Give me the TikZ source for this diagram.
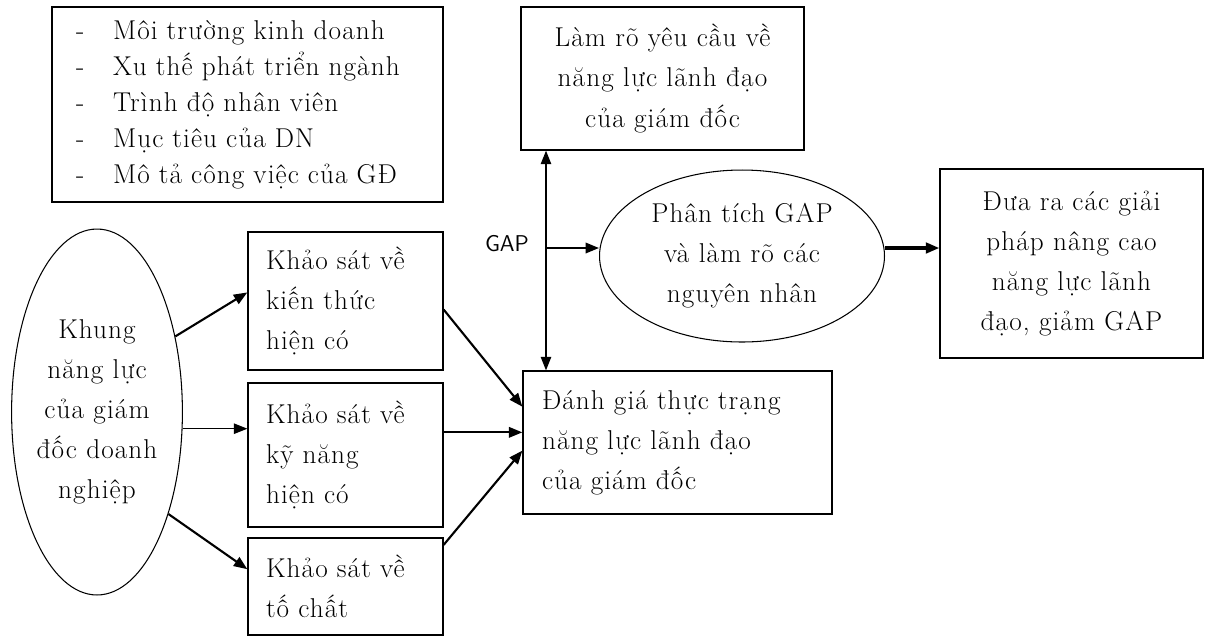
\documentclass[tikz,border=0pt]{standalone}
\usepackage{fontspec}
\setmainfont{Latin Modern Roman}[LetterSpace=4]
\usetikzlibrary{shapes.geometric,arrows.meta}

\begin{document}
\begin{tikzpicture}[x=0.02cm,y=-0.02cm,
    >={Triangle[length=2.7mm,width=2.1mm]},
    font=\fontsize{15.5}{22.8}\selectfont,
    box/.style={draw,line width=0.8pt,inner sep=0pt},
    oval/.style={draw,line width=0.6pt,ellipse,inner sep=0pt,align=center},
    bold/.style={->,line width=1.2pt},
    fine/.style={->,line width=0.6pt}]
  \useasboundingbox (0,0) rectangle (1209,637);
  % factors
  \node[box,minimum width=7.82cm,minimum height=3.9cm,text width=6.86cm,align=left,
    font=\fontsize{15.5}{20.5}\selectfont] (env) at (247.5,104.5)
    {\makebox[0.74cm][l]{-}Môi trường kinh doanh\\
     \makebox[0.74cm][l]{-}Xu thế phát triển ngành\\
     \makebox[0.74cm][l]{-}Trình độ nhân viên\\
     \makebox[0.74cm][l]{-}Mục tiêu của DN\\
     \makebox[0.74cm][l]{-}Mô tả công việc của GĐ};
  \node[box,minimum width=5.66cm,minimum height=2.86cm,align=center] (req) at (662.5,78.5)
    {Làm rõ yêu cầu về\\năng lực lãnh đạo\\của giám đốc};
  % left column
  \node[oval,minimum width=3.4cm,minimum height=7.32cm] (frame) at (97,412)
    {Khung\\năng lực\\của giám\\đốc doanh\\nghiệp};
  \node[box,minimum width=3.9cm,minimum height=2.76cm,text width=3.18cm,align=left] (kt) at (345.5,301)
    {Khảo sát về\\kiến thức\\hiện có};
  \node[box,minimum width=3.9cm,minimum height=2.88cm,text width=3.18cm,align=left] (kn) at (345.5,455)
    {Khảo sát về\\kỹ năng\\hiện có};
  \node[box,minimum width=3.9cm,minimum height=1.94cm,text width=3.18cm,align=left] (tc) at (345.5,586.5)
    {Khảo sát về\\tố chất};
  \node[box,minimum width=6.18cm,minimum height=2.86cm,text width=5.42cm,align=left] (eval) at (677.5,442.5)
    {Đánh giá thực trạng\\năng lực lãnh đạo\\của giám đốc};
  % gap analysis
  \node[oval,minimum width=5.7cm,minimum height=3.44cm] (gap) at (742,256)
    {Phân tích GAP\\và làm rõ các\\nguyên nhân};
  \node[box,minimum width=5.26cm,minimum height=3.78cm,align=center] (sol) at (1071.5,263.5)
    {Đưa ra các giải\\pháp nâng cao\\năng lực lãnh\\đạo, giảm GAP};
  \node[font=\sffamily\fontsize{13}{15}\selectfont] (gaplbl) at (507,244) {GAP};
  \coordinate (gapj) at (546,248);

  \draw[bold] (frame.44) -- (kt.175);
  \draw[fine] (kn.165 -| frame.east) -- (kn.165);
  \draw[bold] (frame.-55) -- (tc.170);
  \draw[bold] (kt.-5) -- (eval.167);
  \draw[bold] (kn.13) -- (kn.13 -| eval.west);
  \draw[bold] (tc.23) -- (eval.183);
  \draw[<->,line width=0.6pt] (gapj |- req.south) -- (gapj |- eval.north);
  \draw[bold] (gapj) -- (gapj -| gap.west);
  \draw[->,line width=1.8pt] (gap.east |- gapj) -- (gapj -| sol.west);
\end{tikzpicture}
\end{document}
